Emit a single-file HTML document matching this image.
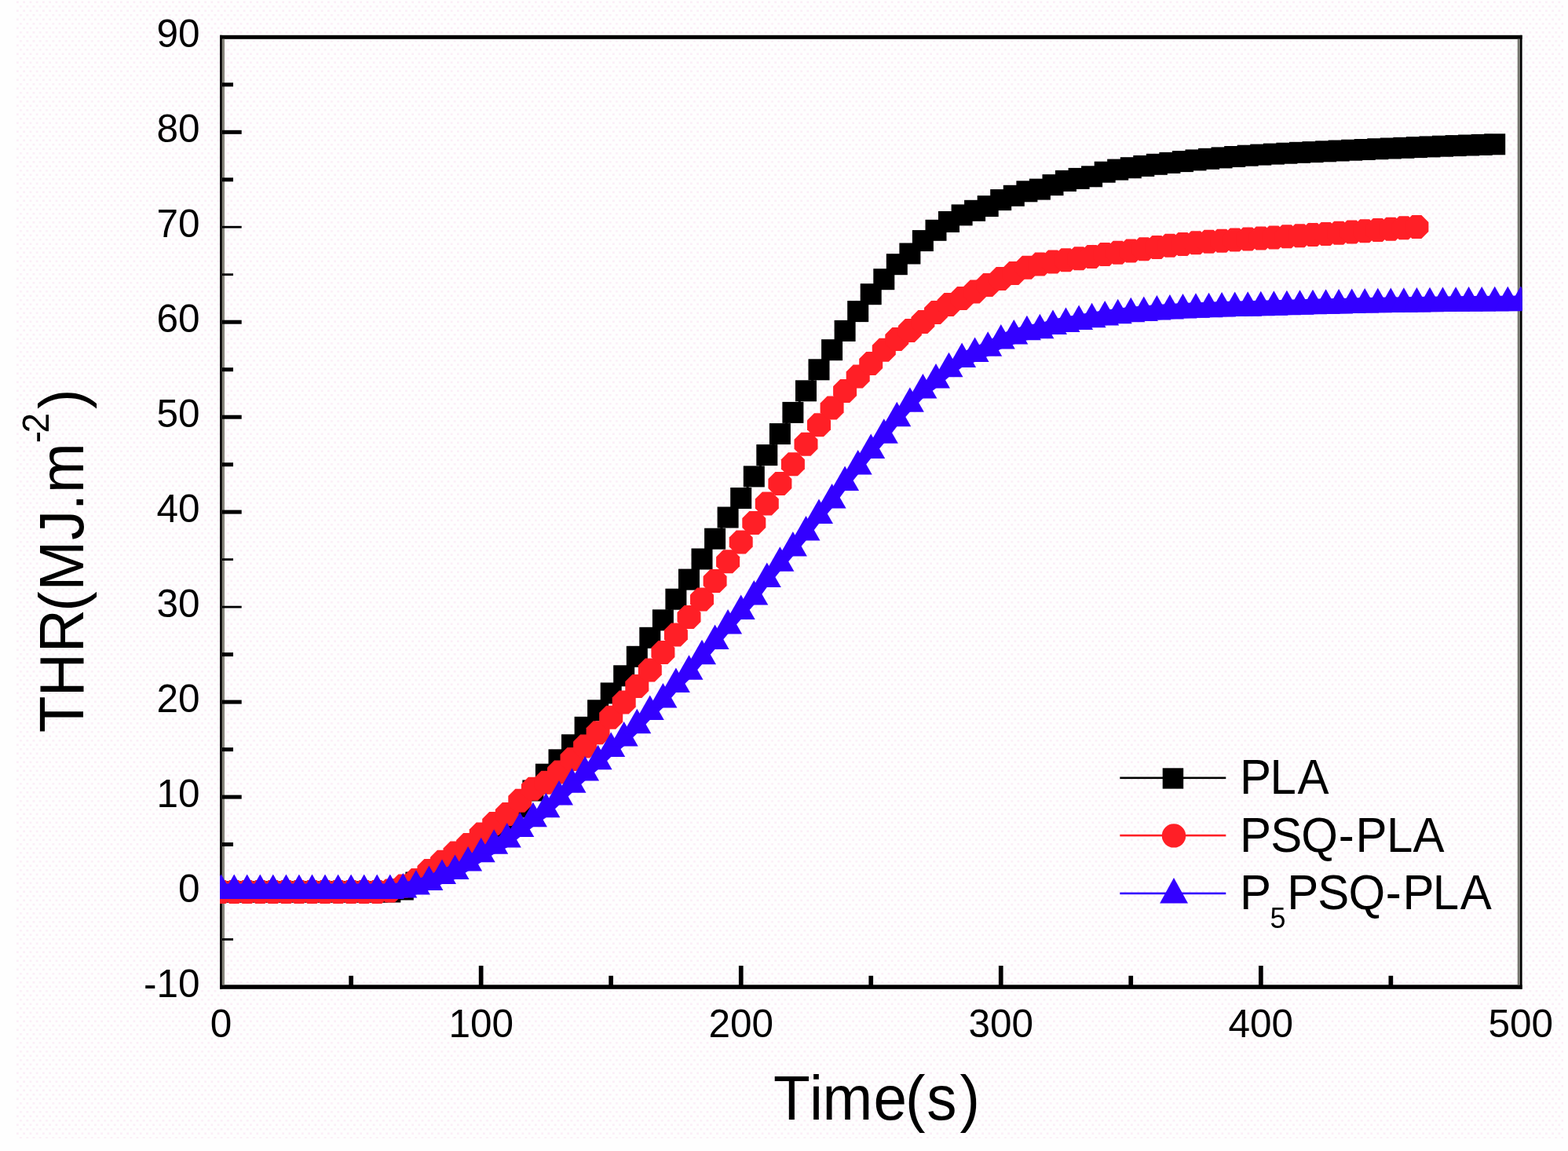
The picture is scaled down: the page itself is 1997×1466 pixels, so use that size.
<!DOCTYPE html>
<html lang="en"><head><meta charset="utf-8"><title>THR vs Time</title>
<style>html,body{margin:0;padding:0;background:#fefefe;}body{width:1997px;height:1466px;overflow:hidden;}svg{display:block;}text{font-family:"Liberation Sans",Arial,Helvetica,sans-serif;fill:#000;}</style></head><body>
<svg width="1997" height="1466" viewBox="0 0 1997 1466">
<defs><clipPath id="plot"><rect x="280" y="45" width="1658.6" height="1215"/></clipPath>
<pattern id="dots" x="21" y="0" width="8.25" height="11" patternUnits="userSpaceOnUse"><rect x="0" y="1.4" width="2.75" height="2.75" fill="#fbeef7"/><rect x="4.1" y="6.9" width="2.75" height="2.75" fill="#fbeef7"/></pattern></defs>
<rect x="0" y="0" width="1997" height="1466" fill="#fefefe"/>
<rect x="21" y="0" width="1970" height="1450" fill="url(#dots)"/>
<g fill="#000">
<rect x="280" y="44.8" width="1658.6" height="5"/>
<rect x="280" y="1254.3" width="1658.6" height="5.5"/>
<rect x="280" y="44.8" width="2.9" height="1215"/>
<rect x="1935.9" y="44.8" width="2.7" height="1215"/>
</g>
<rect x="282.9" y="49.8" width="3.1" height="1204.5" fill="#86857b"/>
<rect x="1932.7" y="49.8" width="3.2" height="1204.5" fill="#76766f"/>
<g fill="#000">
<rect x="283" y="1195.1" width="14.0" height="2.8"/>
<rect x="283" y="1133.5" width="24.7" height="5.0"/>
<rect x="283" y="1073.0" width="14.0" height="5.0"/>
<rect x="283" y="1012.6" width="24.7" height="5.0"/>
<rect x="283" y="952.1" width="14.0" height="5.0"/>
<rect x="283" y="891.6" width="24.7" height="5.0"/>
<rect x="283" y="831.1" width="14.0" height="5.0"/>
<rect x="283" y="771.7" width="24.7" height="2.8"/>
<rect x="283" y="711.2" width="14.0" height="2.8"/>
<rect x="283" y="649.6" width="24.7" height="5.0"/>
<rect x="283" y="589.2" width="14.0" height="5.0"/>
<rect x="283" y="528.7" width="24.7" height="5.0"/>
<rect x="283" y="468.2" width="14.0" height="5.0"/>
<rect x="283" y="407.7" width="24.7" height="5.0"/>
<rect x="283" y="348.3" width="14.0" height="2.8"/>
<rect x="283" y="287.8" width="24.7" height="2.8"/>
<rect x="283" y="226.3" width="14.0" height="5.0"/>
<rect x="283" y="165.8" width="24.7" height="5.0"/>
<rect x="283" y="105.3" width="14.0" height="5.0"/>
<rect x="444.3" y="1242.8" width="5.7" height="12.5"/>
<rect x="609.8" y="1230.0" width="5.7" height="25.3"/>
<rect x="775.3" y="1242.8" width="5.7" height="12.5"/>
<rect x="940.9" y="1230.0" width="5.7" height="25.3"/>
<rect x="1106.4" y="1242.8" width="5.7" height="12.5"/>
<rect x="1271.9" y="1230.0" width="5.7" height="25.3"/>
<rect x="1437.4" y="1242.8" width="5.7" height="12.5"/>
<rect x="1603.0" y="1230.0" width="5.7" height="25.3"/>
<rect x="1768.5" y="1242.8" width="5.7" height="12.5"/>
</g>
<g font-size="49.5px">
<text x="254.5" y="1269.8" text-anchor="end">-10</text>
<text x="254.5" y="1148.8" text-anchor="end">0</text>
<text x="254.5" y="1027.9" text-anchor="end">10</text>
<text x="254.5" y="906.9" text-anchor="end">20</text>
<text x="254.5" y="785.9" text-anchor="end">30</text>
<text x="254.5" y="664.9" text-anchor="end">40</text>
<text x="254.5" y="544.0" text-anchor="end">50</text>
<text x="254.5" y="423.0" text-anchor="end">60</text>
<text x="254.5" y="302.0" text-anchor="end">70</text>
<text x="254.5" y="181.1" text-anchor="end">80</text>
<text x="254.5" y="60.1" text-anchor="end">90</text>
<text x="281.6" y="1320.8" text-anchor="middle">0</text>
<text x="612.7" y="1320.8" text-anchor="middle">100</text>
<text x="943.7" y="1320.8" text-anchor="middle">200</text>
<text x="1274.8" y="1320.8" text-anchor="middle">300</text>
<text x="1605.8" y="1320.8" text-anchor="middle">400</text>
<text x="1936.8" y="1320.8" text-anchor="middle">500</text>
</g>
<g transform="translate(0,1426) scale(1,1.04)"><text y="0" font-size="76.5px" x="984.9 1031.1 1047.6 1112.6 1153.1 1180.2 1222.6">Time(s)</text></g>
<g transform="translate(105.6,933) rotate(-90) scale(1,1.04)"><text y="0" font-size="76.5px" x="-0.3 45.7 101.7 154.2 180.6 245.0 282.7 304.9">THR(MJ.m<tspan font-size="46px" dy="-41.9" x="368.8 381.5">-2</tspan><tspan dy="41.9" x="412.1">)</tspan></text></g>
<g clip-path="url(#plot)">
<polyline fill="none" stroke="#000" stroke-width="2.6" points="281.6,1136.0 298.2,1136.0 314.7,1136.0 331.3,1136.0 347.8,1136.0 364.4,1136.0 380.9,1136.0 397.5,1136.0 414.0,1136.0 430.6,1136.0 447.1,1136.0 463.7,1136.0 480.2,1136.0 496.8,1136.0 513.3,1133.0 529.9,1124.0 546.4,1115.0 563.0,1105.0 579.5,1095.0 596.1,1085.0 612.7,1072.0 629.2,1058.0 645.8,1045.0 662.3,1028.0 678.9,1007.0 695.4,986.2 712.0,967.8 728.5,948.8 745.1,926.3 761.6,904.8 778.2,882.9 794.7,860.8 811.3,836.3 827.8,812.3 844.4,789.8 860.9,763.2 877.5,738.1 894.0,712.0 910.6,686.2 927.1,659.0 943.7,634.5 960.3,606.9 976.8,579.6 993.4,552.6 1009.9,525.4 1026.5,497.8 1043.0,470.8 1059.6,445.7 1076.1,421.4 1092.7,396.6 1109.2,374.7 1125.8,355.7 1142.3,336.7 1158.9,323.0 1175.4,306.6 1192.0,293.3 1208.5,282.5 1225.1,273.9 1241.6,268.3 1258.2,262.6 1274.8,254.6 1291.3,249.3 1307.9,243.8 1324.4,241.1 1341.0,235.6 1357.5,230.4 1374.1,227.4 1390.6,224.8 1407.2,219.2 1423.7,216.1 1440.3,213.7 1456.8,211.4 1473.4,209.3 1489.9,207.4 1506.5,205.6 1523.0,203.9 1539.6,202.3 1556.1,200.9 1572.7,199.5 1589.2,198.2 1605.8,197.1 1622.4,196.1 1638.9,195.2 1655.5,194.3 1672.0,193.6 1688.6,192.8 1705.1,192.0 1721.7,191.2 1738.2,190.5 1754.8,189.7 1771.3,189.0 1787.9,188.3 1804.4,187.6 1821.0,186.9 1837.5,186.2 1854.1,185.6 1870.6,185.0 1887.2,184.4 1903.7,183.8"/>
<g fill="#000">
<rect x="268.1" y="1122.5" width="27" height="27"/>
<rect x="284.7" y="1122.5" width="27" height="27"/>
<rect x="301.2" y="1122.5" width="27" height="27"/>
<rect x="317.8" y="1122.5" width="27" height="27"/>
<rect x="334.3" y="1122.5" width="27" height="27"/>
<rect x="350.9" y="1122.5" width="27" height="27"/>
<rect x="367.4" y="1122.5" width="27" height="27"/>
<rect x="384.0" y="1122.5" width="27" height="27"/>
<rect x="400.5" y="1122.5" width="27" height="27"/>
<rect x="417.1" y="1122.5" width="27" height="27"/>
<rect x="433.6" y="1122.5" width="27" height="27"/>
<rect x="450.2" y="1122.5" width="27" height="27"/>
<rect x="466.7" y="1122.5" width="27" height="27"/>
<rect x="483.3" y="1122.5" width="27" height="27"/>
<rect x="499.8" y="1119.5" width="27" height="27"/>
<rect x="516.4" y="1110.5" width="27" height="27"/>
<rect x="532.9" y="1101.5" width="27" height="27"/>
<rect x="549.5" y="1091.5" width="27" height="27"/>
<rect x="566.0" y="1081.5" width="27" height="27"/>
<rect x="582.6" y="1071.5" width="27" height="27"/>
<rect x="599.2" y="1058.5" width="27" height="27"/>
<rect x="615.7" y="1044.5" width="27" height="27"/>
<rect x="632.3" y="1031.5" width="27" height="27"/>
<rect x="648.8" y="1014.5" width="27" height="27"/>
<rect x="665.4" y="993.5" width="27" height="27"/>
<rect x="681.9" y="972.7" width="27" height="27"/>
<rect x="698.5" y="954.3" width="27" height="27"/>
<rect x="715.0" y="935.3" width="27" height="27"/>
<rect x="731.6" y="912.8" width="27" height="27"/>
<rect x="748.1" y="891.3" width="27" height="27"/>
<rect x="764.7" y="869.4" width="27" height="27"/>
<rect x="781.2" y="847.3" width="27" height="27"/>
<rect x="797.8" y="822.8" width="27" height="27"/>
<rect x="814.3" y="798.8" width="27" height="27"/>
<rect x="830.9" y="776.3" width="27" height="27"/>
<rect x="847.4" y="749.7" width="27" height="27"/>
<rect x="864.0" y="724.6" width="27" height="27"/>
<rect x="880.5" y="698.5" width="27" height="27"/>
<rect x="897.1" y="672.7" width="27" height="27"/>
<rect x="913.6" y="645.5" width="27" height="27"/>
<rect x="930.2" y="621.0" width="27" height="27"/>
<rect x="946.8" y="593.4" width="27" height="27"/>
<rect x="963.3" y="566.1" width="27" height="27"/>
<rect x="979.9" y="539.1" width="27" height="27"/>
<rect x="996.4" y="511.9" width="27" height="27"/>
<rect x="1013.0" y="484.3" width="27" height="27"/>
<rect x="1029.5" y="457.3" width="27" height="27"/>
<rect x="1046.1" y="432.2" width="27" height="27"/>
<rect x="1062.6" y="407.9" width="27" height="27"/>
<rect x="1079.2" y="383.1" width="27" height="27"/>
<rect x="1095.7" y="361.2" width="27" height="27"/>
<rect x="1112.3" y="342.2" width="27" height="27"/>
<rect x="1128.8" y="323.2" width="27" height="27"/>
<rect x="1145.4" y="309.5" width="27" height="27"/>
<rect x="1161.9" y="293.1" width="27" height="27"/>
<rect x="1178.5" y="279.8" width="27" height="27"/>
<rect x="1195.0" y="269.0" width="27" height="27"/>
<rect x="1211.6" y="260.4" width="27" height="27"/>
<rect x="1228.1" y="254.8" width="27" height="27"/>
<rect x="1244.7" y="249.1" width="27" height="27"/>
<rect x="1261.2" y="241.1" width="27" height="27"/>
<rect x="1277.8" y="235.8" width="27" height="27"/>
<rect x="1294.4" y="230.3" width="27" height="27"/>
<rect x="1310.9" y="227.6" width="27" height="27"/>
<rect x="1327.5" y="222.1" width="27" height="27"/>
<rect x="1344.0" y="216.9" width="27" height="27"/>
<rect x="1360.6" y="213.9" width="27" height="27"/>
<rect x="1377.1" y="211.3" width="27" height="27"/>
<rect x="1393.7" y="205.7" width="27" height="27"/>
<rect x="1410.2" y="202.6" width="27" height="27"/>
<rect x="1426.8" y="200.2" width="27" height="27"/>
<rect x="1443.3" y="197.9" width="27" height="27"/>
<rect x="1459.9" y="195.8" width="27" height="27"/>
<rect x="1476.4" y="193.9" width="27" height="27"/>
<rect x="1493.0" y="192.1" width="27" height="27"/>
<rect x="1509.5" y="190.4" width="27" height="27"/>
<rect x="1526.1" y="188.8" width="27" height="27"/>
<rect x="1542.6" y="187.4" width="27" height="27"/>
<rect x="1559.2" y="186.0" width="27" height="27"/>
<rect x="1575.7" y="184.7" width="27" height="27"/>
<rect x="1592.3" y="183.6" width="27" height="27"/>
<rect x="1608.9" y="182.6" width="27" height="27"/>
<rect x="1625.4" y="181.7" width="27" height="27"/>
<rect x="1642.0" y="180.8" width="27" height="27"/>
<rect x="1658.5" y="180.1" width="27" height="27"/>
<rect x="1675.1" y="179.3" width="27" height="27"/>
<rect x="1691.6" y="178.5" width="27" height="27"/>
<rect x="1708.2" y="177.7" width="27" height="27"/>
<rect x="1724.7" y="177.0" width="27" height="27"/>
<rect x="1741.3" y="176.2" width="27" height="27"/>
<rect x="1757.8" y="175.5" width="27" height="27"/>
<rect x="1774.4" y="174.8" width="27" height="27"/>
<rect x="1790.9" y="174.1" width="27" height="27"/>
<rect x="1807.5" y="173.4" width="27" height="27"/>
<rect x="1824.0" y="172.7" width="27" height="27"/>
<rect x="1840.6" y="172.1" width="27" height="27"/>
<rect x="1857.1" y="171.5" width="27" height="27"/>
<rect x="1873.7" y="170.9" width="27" height="27"/>
<rect x="1890.2" y="170.3" width="27" height="27"/>
</g>
<polyline fill="none" stroke="#ff1f26" stroke-width="2.6" points="281.6,1136.0 298.2,1136.0 314.7,1136.0 331.3,1136.0 347.8,1136.0 364.4,1136.0 380.9,1136.0 397.5,1136.0 414.0,1136.0 430.6,1136.0 447.1,1136.0 463.7,1136.0 480.2,1136.0 496.8,1134.6 513.3,1128.6 529.9,1121.1 546.4,1109.1 563.0,1097.8 579.5,1086.6 596.1,1076.1 612.7,1062.6 629.2,1049.0 645.8,1037.0 662.3,1019.8 678.9,1004.8 695.4,996.7 712.0,983.4 728.5,967.0 745.1,950.6 761.6,933.2 778.2,913.8 794.7,894.4 811.3,873.9 827.8,853.5 844.4,830.9 860.9,808.4 877.5,785.9 894.0,763.4 910.6,739.9 927.1,715.3 943.7,690.5 960.3,666.0 976.8,641.4 993.4,615.9 1009.9,591.3 1026.5,565.7 1043.0,541.2 1059.6,519.5 1076.1,498.0 1092.7,479.5 1109.2,463.0 1125.8,445.7 1142.3,432.0 1158.9,421.0 1175.4,410.0 1192.0,398.0 1208.5,388.0 1225.1,380.0 1241.6,371.5 1258.2,363.0 1274.8,355.0 1291.3,348.0 1307.9,340.7 1324.4,336.5 1341.0,333.5 1357.5,331.3 1374.1,329.2 1390.6,327.0 1407.2,324.0 1423.7,321.8 1440.3,319.5 1456.8,317.3 1473.4,315.0 1489.9,312.8 1506.5,310.9 1523.0,309.2 1539.6,307.8 1556.1,306.7 1572.7,305.6 1589.2,304.6 1605.8,303.5 1622.4,302.4 1638.9,301.3 1655.5,300.2 1672.0,299.1 1688.6,298.0 1705.1,296.8 1721.7,295.6 1738.2,294.3 1754.8,293.0 1771.3,291.7 1787.9,290.3 1804.4,288.9"/>
<g fill="#ff1f26">
<path d="M275.6 1121.0L287.6 1121.0L296.6 1130.0L296.6 1142.0L287.6 1151.0L275.6 1151.0L266.6 1142.0L266.6 1130.0Z"/>
<path d="M292.2 1121.0L304.2 1121.0L313.2 1130.0L313.2 1142.0L304.2 1151.0L292.2 1151.0L283.2 1142.0L283.2 1130.0Z"/>
<path d="M308.7 1121.0L320.7 1121.0L329.7 1130.0L329.7 1142.0L320.7 1151.0L308.7 1151.0L299.7 1142.0L299.7 1130.0Z"/>
<path d="M325.3 1121.0L337.3 1121.0L346.3 1130.0L346.3 1142.0L337.3 1151.0L325.3 1151.0L316.3 1142.0L316.3 1130.0Z"/>
<path d="M341.8 1121.0L353.8 1121.0L362.8 1130.0L362.8 1142.0L353.8 1151.0L341.8 1151.0L332.8 1142.0L332.8 1130.0Z"/>
<path d="M358.4 1121.0L370.4 1121.0L379.4 1130.0L379.4 1142.0L370.4 1151.0L358.4 1151.0L349.4 1142.0L349.4 1130.0Z"/>
<path d="M374.9 1121.0L386.9 1121.0L395.9 1130.0L395.9 1142.0L386.9 1151.0L374.9 1151.0L365.9 1142.0L365.9 1130.0Z"/>
<path d="M391.5 1121.0L403.5 1121.0L412.5 1130.0L412.5 1142.0L403.5 1151.0L391.5 1151.0L382.5 1142.0L382.5 1130.0Z"/>
<path d="M408.0 1121.0L420.0 1121.0L429.0 1130.0L429.0 1142.0L420.0 1151.0L408.0 1151.0L399.0 1142.0L399.0 1130.0Z"/>
<path d="M424.6 1121.0L436.6 1121.0L445.6 1130.0L445.6 1142.0L436.6 1151.0L424.6 1151.0L415.6 1142.0L415.6 1130.0Z"/>
<path d="M441.1 1121.0L453.1 1121.0L462.1 1130.0L462.1 1142.0L453.1 1151.0L441.1 1151.0L432.1 1142.0L432.1 1130.0Z"/>
<path d="M457.7 1121.0L469.7 1121.0L478.7 1130.0L478.7 1142.0L469.7 1151.0L457.7 1151.0L448.7 1142.0L448.7 1130.0Z"/>
<path d="M474.2 1121.0L486.2 1121.0L495.2 1130.0L495.2 1142.0L486.2 1151.0L474.2 1151.0L465.2 1142.0L465.2 1130.0Z"/>
<path d="M490.8 1119.6L502.8 1119.6L511.8 1128.6L511.8 1140.6L502.8 1149.6L490.8 1149.6L481.8 1140.6L481.8 1128.6Z"/>
<path d="M507.3 1113.6L519.3 1113.6L528.3 1122.6L528.3 1134.6L519.3 1143.6L507.3 1143.6L498.3 1134.6L498.3 1122.6Z"/>
<path d="M523.9 1106.1L535.9 1106.1L544.9 1115.1L544.9 1127.1L535.9 1136.1L523.9 1136.1L514.9 1127.1L514.9 1115.1Z"/>
<path d="M540.4 1094.1L552.4 1094.1L561.4 1103.1L561.4 1115.1L552.4 1124.1L540.4 1124.1L531.4 1115.1L531.4 1103.1Z"/>
<path d="M557.0 1082.8L569.0 1082.8L578.0 1091.8L578.0 1103.8L569.0 1112.8L557.0 1112.8L548.0 1103.8L548.0 1091.8Z"/>
<path d="M573.5 1071.6L585.5 1071.6L594.5 1080.6L594.5 1092.6L585.5 1101.6L573.5 1101.6L564.5 1092.6L564.5 1080.6Z"/>
<path d="M590.1 1061.1L602.1 1061.1L611.1 1070.1L611.1 1082.1L602.1 1091.1L590.1 1091.1L581.1 1082.1L581.1 1070.1Z"/>
<path d="M606.7 1047.6L618.7 1047.6L627.7 1056.6L627.7 1068.6L618.7 1077.6L606.7 1077.6L597.7 1068.6L597.7 1056.6Z"/>
<path d="M623.2 1034.0L635.2 1034.0L644.2 1043.0L644.2 1055.0L635.2 1064.0L623.2 1064.0L614.2 1055.0L614.2 1043.0Z"/>
<path d="M639.8 1022.0L651.8 1022.0L660.8 1031.0L660.8 1043.0L651.8 1052.0L639.8 1052.0L630.8 1043.0L630.8 1031.0Z"/>
<path d="M656.3 1004.8L668.3 1004.8L677.3 1013.8L677.3 1025.8L668.3 1034.8L656.3 1034.8L647.3 1025.8L647.3 1013.8Z"/>
<path d="M672.9 989.8L684.9 989.8L693.9 998.8L693.9 1010.8L684.9 1019.8L672.9 1019.8L663.9 1010.8L663.9 998.8Z"/>
<path d="M689.4 981.7L701.4 981.7L710.4 990.7L710.4 1002.7L701.4 1011.7L689.4 1011.7L680.4 1002.7L680.4 990.7Z"/>
<path d="M706.0 968.4L718.0 968.4L727.0 977.4L727.0 989.4L718.0 998.4L706.0 998.4L697.0 989.4L697.0 977.4Z"/>
<path d="M722.5 952.0L734.5 952.0L743.5 961.0L743.5 973.0L734.5 982.0L722.5 982.0L713.5 973.0L713.5 961.0Z"/>
<path d="M739.1 935.6L751.1 935.6L760.1 944.6L760.1 956.6L751.1 965.6L739.1 965.6L730.1 956.6L730.1 944.6Z"/>
<path d="M755.6 918.2L767.6 918.2L776.6 927.2L776.6 939.2L767.6 948.2L755.6 948.2L746.6 939.2L746.6 927.2Z"/>
<path d="M772.2 898.8L784.2 898.8L793.2 907.8L793.2 919.8L784.2 928.8L772.2 928.8L763.2 919.8L763.2 907.8Z"/>
<path d="M788.7 879.4L800.7 879.4L809.7 888.4L809.7 900.4L800.7 909.4L788.7 909.4L779.7 900.4L779.7 888.4Z"/>
<path d="M805.3 858.9L817.3 858.9L826.3 867.9L826.3 879.9L817.3 888.9L805.3 888.9L796.3 879.9L796.3 867.9Z"/>
<path d="M821.8 838.5L833.8 838.5L842.8 847.5L842.8 859.5L833.8 868.5L821.8 868.5L812.8 859.5L812.8 847.5Z"/>
<path d="M838.4 815.9L850.4 815.9L859.4 824.9L859.4 836.9L850.4 845.9L838.4 845.9L829.4 836.9L829.4 824.9Z"/>
<path d="M854.9 793.4L866.9 793.4L875.9 802.4L875.9 814.4L866.9 823.4L854.9 823.4L845.9 814.4L845.9 802.4Z"/>
<path d="M871.5 770.9L883.5 770.9L892.5 779.9L892.5 791.9L883.5 800.9L871.5 800.9L862.5 791.9L862.5 779.9Z"/>
<path d="M888.0 748.4L900.0 748.4L909.0 757.4L909.0 769.4L900.0 778.4L888.0 778.4L879.0 769.4L879.0 757.4Z"/>
<path d="M904.6 724.9L916.6 724.9L925.6 733.9L925.6 745.9L916.6 754.9L904.6 754.9L895.6 745.9L895.6 733.9Z"/>
<path d="M921.1 700.3L933.1 700.3L942.1 709.3L942.1 721.3L933.1 730.3L921.1 730.3L912.1 721.3L912.1 709.3Z"/>
<path d="M937.7 675.5L949.7 675.5L958.7 684.5L958.7 696.5L949.7 705.5L937.7 705.5L928.7 696.5L928.7 684.5Z"/>
<path d="M954.3 651.0L966.3 651.0L975.3 660.0L975.3 672.0L966.3 681.0L954.3 681.0L945.3 672.0L945.3 660.0Z"/>
<path d="M970.8 626.4L982.8 626.4L991.8 635.4L991.8 647.4L982.8 656.4L970.8 656.4L961.8 647.4L961.8 635.4Z"/>
<path d="M987.4 600.9L999.4 600.9L1008.4 609.9L1008.4 621.9L999.4 630.9L987.4 630.9L978.4 621.9L978.4 609.9Z"/>
<path d="M1003.9 576.3L1015.9 576.3L1024.9 585.3L1024.9 597.3L1015.9 606.3L1003.9 606.3L994.9 597.3L994.9 585.3Z"/>
<path d="M1020.5 550.7L1032.5 550.7L1041.5 559.7L1041.5 571.7L1032.5 580.7L1020.5 580.7L1011.5 571.7L1011.5 559.7Z"/>
<path d="M1037.0 526.2L1049.0 526.2L1058.0 535.2L1058.0 547.2L1049.0 556.2L1037.0 556.2L1028.0 547.2L1028.0 535.2Z"/>
<path d="M1053.6 504.5L1065.6 504.5L1074.6 513.5L1074.6 525.5L1065.6 534.5L1053.6 534.5L1044.6 525.5L1044.6 513.5Z"/>
<path d="M1070.1 483.0L1082.1 483.0L1091.1 492.0L1091.1 504.0L1082.1 513.0L1070.1 513.0L1061.1 504.0L1061.1 492.0Z"/>
<path d="M1086.7 464.5L1098.7 464.5L1107.7 473.5L1107.7 485.5L1098.7 494.5L1086.7 494.5L1077.7 485.5L1077.7 473.5Z"/>
<path d="M1103.2 448.0L1115.2 448.0L1124.2 457.0L1124.2 469.0L1115.2 478.0L1103.2 478.0L1094.2 469.0L1094.2 457.0Z"/>
<path d="M1119.8 430.7L1131.8 430.7L1140.8 439.7L1140.8 451.7L1131.8 460.7L1119.8 460.7L1110.8 451.7L1110.8 439.7Z"/>
<path d="M1136.3 417.0L1148.3 417.0L1157.3 426.0L1157.3 438.0L1148.3 447.0L1136.3 447.0L1127.3 438.0L1127.3 426.0Z"/>
<path d="M1152.9 406.0L1164.9 406.0L1173.9 415.0L1173.9 427.0L1164.9 436.0L1152.9 436.0L1143.9 427.0L1143.9 415.0Z"/>
<path d="M1169.4 395.0L1181.4 395.0L1190.4 404.0L1190.4 416.0L1181.4 425.0L1169.4 425.0L1160.4 416.0L1160.4 404.0Z"/>
<path d="M1186.0 383.0L1198.0 383.0L1207.0 392.0L1207.0 404.0L1198.0 413.0L1186.0 413.0L1177.0 404.0L1177.0 392.0Z"/>
<path d="M1202.5 373.0L1214.5 373.0L1223.5 382.0L1223.5 394.0L1214.5 403.0L1202.5 403.0L1193.5 394.0L1193.5 382.0Z"/>
<path d="M1219.1 365.0L1231.1 365.0L1240.1 374.0L1240.1 386.0L1231.1 395.0L1219.1 395.0L1210.1 386.0L1210.1 374.0Z"/>
<path d="M1235.6 356.5L1247.6 356.5L1256.6 365.5L1256.6 377.5L1247.6 386.5L1235.6 386.5L1226.6 377.5L1226.6 365.5Z"/>
<path d="M1252.2 348.0L1264.2 348.0L1273.2 357.0L1273.2 369.0L1264.2 378.0L1252.2 378.0L1243.2 369.0L1243.2 357.0Z"/>
<path d="M1268.8 340.0L1280.8 340.0L1289.8 349.0L1289.8 361.0L1280.8 370.0L1268.8 370.0L1259.8 361.0L1259.8 349.0Z"/>
<path d="M1285.3 333.0L1297.3 333.0L1306.3 342.0L1306.3 354.0L1297.3 363.0L1285.3 363.0L1276.3 354.0L1276.3 342.0Z"/>
<path d="M1301.9 325.7L1313.9 325.7L1322.9 334.7L1322.9 346.7L1313.9 355.7L1301.9 355.7L1292.9 346.7L1292.9 334.7Z"/>
<path d="M1318.4 321.5L1330.4 321.5L1339.4 330.5L1339.4 342.5L1330.4 351.5L1318.4 351.5L1309.4 342.5L1309.4 330.5Z"/>
<path d="M1335.0 318.5L1347.0 318.5L1356.0 327.5L1356.0 339.5L1347.0 348.5L1335.0 348.5L1326.0 339.5L1326.0 327.5Z"/>
<path d="M1351.5 316.3L1363.5 316.3L1372.5 325.3L1372.5 337.3L1363.5 346.3L1351.5 346.3L1342.5 337.3L1342.5 325.3Z"/>
<path d="M1368.1 314.2L1380.1 314.2L1389.1 323.2L1389.1 335.2L1380.1 344.2L1368.1 344.2L1359.1 335.2L1359.1 323.2Z"/>
<path d="M1384.6 312.0L1396.6 312.0L1405.6 321.0L1405.6 333.0L1396.6 342.0L1384.6 342.0L1375.6 333.0L1375.6 321.0Z"/>
<path d="M1401.2 309.0L1413.2 309.0L1422.2 318.0L1422.2 330.0L1413.2 339.0L1401.2 339.0L1392.2 330.0L1392.2 318.0Z"/>
<path d="M1417.7 306.8L1429.7 306.8L1438.7 315.8L1438.7 327.8L1429.7 336.8L1417.7 336.8L1408.7 327.8L1408.7 315.8Z"/>
<path d="M1434.3 304.5L1446.3 304.5L1455.3 313.5L1455.3 325.5L1446.3 334.5L1434.3 334.5L1425.3 325.5L1425.3 313.5Z"/>
<path d="M1450.8 302.3L1462.8 302.3L1471.8 311.3L1471.8 323.3L1462.8 332.3L1450.8 332.3L1441.8 323.3L1441.8 311.3Z"/>
<path d="M1467.4 300.0L1479.4 300.0L1488.4 309.0L1488.4 321.0L1479.4 330.0L1467.4 330.0L1458.4 321.0L1458.4 309.0Z"/>
<path d="M1483.9 297.8L1495.9 297.8L1504.9 306.8L1504.9 318.8L1495.9 327.8L1483.9 327.8L1474.9 318.8L1474.9 306.8Z"/>
<path d="M1500.5 295.9L1512.5 295.9L1521.5 304.9L1521.5 316.9L1512.5 325.9L1500.5 325.9L1491.5 316.9L1491.5 304.9Z"/>
<path d="M1517.0 294.2L1529.0 294.2L1538.0 303.2L1538.0 315.2L1529.0 324.2L1517.0 324.2L1508.0 315.2L1508.0 303.2Z"/>
<path d="M1533.6 292.8L1545.6 292.8L1554.6 301.8L1554.6 313.8L1545.6 322.8L1533.6 322.8L1524.6 313.8L1524.6 301.8Z"/>
<path d="M1550.1 291.7L1562.1 291.7L1571.1 300.7L1571.1 312.7L1562.1 321.7L1550.1 321.7L1541.1 312.7L1541.1 300.7Z"/>
<path d="M1566.7 290.6L1578.7 290.6L1587.7 299.6L1587.7 311.6L1578.7 320.6L1566.7 320.6L1557.7 311.6L1557.7 299.6Z"/>
<path d="M1583.2 289.6L1595.2 289.6L1604.2 298.6L1604.2 310.6L1595.2 319.6L1583.2 319.6L1574.2 310.6L1574.2 298.6Z"/>
<path d="M1599.8 288.5L1611.8 288.5L1620.8 297.5L1620.8 309.5L1611.8 318.5L1599.8 318.5L1590.8 309.5L1590.8 297.5Z"/>
<path d="M1616.4 287.4L1628.4 287.4L1637.4 296.4L1637.4 308.4L1628.4 317.4L1616.4 317.4L1607.4 308.4L1607.4 296.4Z"/>
<path d="M1632.9 286.3L1644.9 286.3L1653.9 295.3L1653.9 307.3L1644.9 316.3L1632.9 316.3L1623.9 307.3L1623.9 295.3Z"/>
<path d="M1649.5 285.2L1661.5 285.2L1670.5 294.2L1670.5 306.2L1661.5 315.2L1649.5 315.2L1640.5 306.2L1640.5 294.2Z"/>
<path d="M1666.0 284.1L1678.0 284.1L1687.0 293.1L1687.0 305.1L1678.0 314.1L1666.0 314.1L1657.0 305.1L1657.0 293.1Z"/>
<path d="M1682.6 283.0L1694.6 283.0L1703.6 292.0L1703.6 304.0L1694.6 313.0L1682.6 313.0L1673.6 304.0L1673.6 292.0Z"/>
<path d="M1699.1 281.8L1711.1 281.8L1720.1 290.8L1720.1 302.8L1711.1 311.8L1699.1 311.8L1690.1 302.8L1690.1 290.8Z"/>
<path d="M1715.7 280.6L1727.7 280.6L1736.7 289.6L1736.7 301.6L1727.7 310.6L1715.7 310.6L1706.7 301.6L1706.7 289.6Z"/>
<path d="M1732.2 279.3L1744.2 279.3L1753.2 288.3L1753.2 300.3L1744.2 309.3L1732.2 309.3L1723.2 300.3L1723.2 288.3Z"/>
<path d="M1748.8 278.0L1760.8 278.0L1769.8 287.0L1769.8 299.0L1760.8 308.0L1748.8 308.0L1739.8 299.0L1739.8 287.0Z"/>
<path d="M1765.3 276.7L1777.3 276.7L1786.3 285.7L1786.3 297.7L1777.3 306.7L1765.3 306.7L1756.3 297.7L1756.3 285.7Z"/>
<path d="M1781.9 275.3L1793.9 275.3L1802.9 284.3L1802.9 296.3L1793.9 305.3L1781.9 305.3L1772.9 296.3L1772.9 284.3Z"/>
<path d="M1798.4 273.9L1810.4 273.9L1819.4 282.9L1819.4 294.9L1810.4 303.9L1798.4 303.9L1789.4 294.9L1789.4 282.9Z"/>
</g>
<g fill="#3300ff">
<path d="M281.6 1145.0L298.2 1145.0L314.7 1145.0L331.3 1145.0L347.8 1145.0L364.4 1145.0L380.9 1145.0L397.5 1145.0L414.0 1145.0L430.6 1145.0L447.1 1145.0L463.7 1144.9L480.2 1144.9L496.8 1144.9L513.3 1143.4L529.9 1139.6L546.4 1133.9L563.0 1126.1L579.5 1120.1L596.1 1109.6L612.7 1098.3L629.2 1087.8L645.8 1079.6L662.3 1066.0L678.9 1053.3L695.4 1041.3L712.0 1025.5L728.5 1009.8L745.1 994.6L761.6 980.3L778.2 963.9L794.7 950.6L811.3 934.3L827.8 916.9L844.4 901.5L860.9 882.1L877.5 865.7L894.0 846.3L910.6 826.9L927.1 807.4L943.7 789.0L960.3 770.6L976.8 748.1L993.4 727.8L1009.9 708.5L1026.5 688.5L1043.0 667.0L1059.6 647.6L1076.1 625.1L1092.7 604.6L1109.2 584.1L1125.8 564.7L1142.3 543.2L1158.9 524.8L1175.4 507.4L1192.0 494.6L1208.5 480.3L1225.1 468.0L1241.6 460.9L1258.2 453.7L1274.8 444.5L1291.3 438.4L1307.9 433.2L1324.4 431.2L1341.0 426.1L1357.5 423.0L1374.1 420.0L1390.6 417.2L1407.2 414.5L1423.7 412.2L1440.3 410.3L1456.8 408.9L1473.4 407.6L1489.9 406.5L1506.5 405.6L1523.0 404.8L1539.6 404.2L1556.1 403.6L1572.7 403.1L1589.2 402.7L1605.8 402.2L1622.4 401.7L1638.9 401.2L1655.5 400.8L1672.0 400.3L1688.6 399.8L1705.1 399.4L1721.7 399.0L1738.2 398.6L1754.8 398.3L1771.3 398.0L1787.9 397.7L1804.4 397.5L1821.0 397.3L1837.5 397.0L1854.1 396.8L1870.6 396.6L1887.2 396.5L1903.7 396.3L1920.3 396.2L1936.8 396.1L1953.4 396.0L1953.4 376.5L1936.8 376.6L1920.3 376.7L1903.7 376.8L1887.2 377.0L1870.6 377.1L1854.1 377.3L1837.5 377.5L1821.0 377.8L1804.4 378.0L1787.9 378.2L1771.3 378.5L1754.8 378.8L1738.2 379.1L1721.7 379.5L1705.1 379.9L1688.6 380.3L1672.0 380.8L1655.5 381.3L1638.9 381.7L1622.4 382.2L1605.8 382.7L1589.2 383.2L1572.7 383.6L1556.1 384.1L1539.6 384.7L1523.0 385.3L1506.5 386.1L1489.9 387.0L1473.4 388.1L1456.8 389.4L1440.3 390.8L1423.7 392.7L1407.2 395.0L1390.6 397.7L1374.1 400.5L1357.5 403.5L1341.0 406.6L1324.4 411.7L1307.9 413.7L1291.3 418.9L1274.8 425.0L1258.2 434.2L1241.6 441.4L1225.1 448.5L1208.5 460.8L1192.0 475.1L1175.4 487.9L1158.9 505.3L1142.3 523.7L1125.8 545.2L1109.2 564.6L1092.7 585.1L1076.1 605.6L1059.6 628.1L1043.0 647.5L1026.5 669.0L1009.9 689.0L993.4 708.3L976.8 728.6L960.3 751.1L943.7 769.5L927.1 787.9L910.6 807.4L894.0 826.8L877.5 846.2L860.9 862.6L844.4 882.0L827.8 897.4L811.3 914.8L794.7 931.1L778.2 944.4L761.6 960.8L745.1 975.1L728.5 990.3L712.0 1006.0L695.4 1021.8L678.9 1033.8L662.3 1046.5L645.8 1060.1L629.2 1068.3L612.7 1078.8L596.1 1090.1L579.5 1100.6L563.0 1106.6L546.4 1114.4L529.9 1120.1L513.3 1123.9L496.8 1125.4L480.2 1125.4L463.7 1125.4L447.1 1125.5L430.6 1125.5L414.0 1125.5L397.5 1125.5L380.9 1125.5L364.4 1125.5L347.8 1125.5L331.3 1125.5L314.7 1125.5L298.2 1125.5L281.6 1125.5Z"/>
<path d="M281.6 1113.5L299.6 1145.0L263.6 1145.0Z"/>
<path d="M298.2 1113.5L316.2 1145.0L280.2 1145.0Z"/>
<path d="M314.7 1113.5L332.7 1145.0L296.7 1145.0Z"/>
<path d="M331.3 1113.5L349.3 1145.0L313.3 1145.0Z"/>
<path d="M347.8 1113.5L365.8 1145.0L329.8 1145.0Z"/>
<path d="M364.4 1113.5L382.4 1145.0L346.4 1145.0Z"/>
<path d="M380.9 1113.5L398.9 1145.0L362.9 1145.0Z"/>
<path d="M397.5 1113.5L415.5 1145.0L379.5 1145.0Z"/>
<path d="M414.0 1113.5L432.0 1145.0L396.0 1145.0Z"/>
<path d="M430.6 1113.5L448.6 1145.0L412.6 1145.0Z"/>
<path d="M447.1 1113.5L465.1 1145.0L429.1 1145.0Z"/>
<path d="M463.7 1113.4L481.7 1144.9L445.7 1144.9Z"/>
<path d="M480.2 1113.4L498.2 1144.9L462.2 1144.9Z"/>
<path d="M496.8 1113.4L514.8 1144.9L478.8 1144.9Z"/>
<path d="M513.3 1111.9L531.3 1143.4L495.3 1143.4Z"/>
<path d="M529.9 1108.1L547.9 1139.6L511.9 1139.6Z"/>
<path d="M546.4 1102.4L564.4 1133.9L528.4 1133.9Z"/>
<path d="M563.0 1094.6L581.0 1126.1L545.0 1126.1Z"/>
<path d="M579.5 1088.6L597.5 1120.1L561.5 1120.1Z"/>
<path d="M596.1 1078.1L614.1 1109.6L578.1 1109.6Z"/>
<path d="M612.7 1066.8L630.7 1098.3L594.7 1098.3Z"/>
<path d="M629.2 1056.3L647.2 1087.8L611.2 1087.8Z"/>
<path d="M645.8 1048.1L663.8 1079.6L627.8 1079.6Z"/>
<path d="M662.3 1034.5L680.3 1066.0L644.3 1066.0Z"/>
<path d="M678.9 1021.8L696.9 1053.3L660.9 1053.3Z"/>
<path d="M695.4 1009.8L713.4 1041.3L677.4 1041.3Z"/>
<path d="M712.0 994.0L730.0 1025.5L694.0 1025.5Z"/>
<path d="M728.5 978.3L746.5 1009.8L710.5 1009.8Z"/>
<path d="M745.1 963.1L763.1 994.6L727.1 994.6Z"/>
<path d="M761.6 948.8L779.6 980.3L743.6 980.3Z"/>
<path d="M778.2 932.4L796.2 963.9L760.2 963.9Z"/>
<path d="M794.7 919.1L812.7 950.6L776.7 950.6Z"/>
<path d="M811.3 902.8L829.3 934.3L793.3 934.3Z"/>
<path d="M827.8 885.4L845.8 916.9L809.8 916.9Z"/>
<path d="M844.4 870.0L862.4 901.5L826.4 901.5Z"/>
<path d="M860.9 850.6L878.9 882.1L842.9 882.1Z"/>
<path d="M877.5 834.2L895.5 865.7L859.5 865.7Z"/>
<path d="M894.0 814.8L912.0 846.3L876.0 846.3Z"/>
<path d="M910.6 795.4L928.6 826.9L892.6 826.9Z"/>
<path d="M927.1 775.9L945.1 807.4L909.1 807.4Z"/>
<path d="M943.7 757.5L961.7 789.0L925.7 789.0Z"/>
<path d="M960.3 739.1L978.3 770.6L942.3 770.6Z"/>
<path d="M976.8 716.6L994.8 748.1L958.8 748.1Z"/>
<path d="M993.4 696.3L1011.4 727.8L975.4 727.8Z"/>
<path d="M1009.9 677.0L1027.9 708.5L991.9 708.5Z"/>
<path d="M1026.5 657.0L1044.5 688.5L1008.5 688.5Z"/>
<path d="M1043.0 635.5L1061.0 667.0L1025.0 667.0Z"/>
<path d="M1059.6 616.1L1077.6 647.6L1041.6 647.6Z"/>
<path d="M1076.1 593.6L1094.1 625.1L1058.1 625.1Z"/>
<path d="M1092.7 573.1L1110.7 604.6L1074.7 604.6Z"/>
<path d="M1109.2 552.6L1127.2 584.1L1091.2 584.1Z"/>
<path d="M1125.8 533.2L1143.8 564.7L1107.8 564.7Z"/>
<path d="M1142.3 511.7L1160.3 543.2L1124.3 543.2Z"/>
<path d="M1158.9 493.3L1176.9 524.8L1140.9 524.8Z"/>
<path d="M1175.4 475.9L1193.4 507.4L1157.4 507.4Z"/>
<path d="M1192.0 463.1L1210.0 494.6L1174.0 494.6Z"/>
<path d="M1208.5 448.8L1226.5 480.3L1190.5 480.3Z"/>
<path d="M1225.1 436.5L1243.1 468.0L1207.1 468.0Z"/>
<path d="M1241.6 429.4L1259.6 460.9L1223.6 460.9Z"/>
<path d="M1258.2 422.2L1276.2 453.7L1240.2 453.7Z"/>
<path d="M1274.8 413.0L1292.8 444.5L1256.8 444.5Z"/>
<path d="M1291.3 406.9L1309.3 438.4L1273.3 438.4Z"/>
<path d="M1307.9 401.7L1325.9 433.2L1289.9 433.2Z"/>
<path d="M1324.4 399.7L1342.4 431.2L1306.4 431.2Z"/>
<path d="M1341.0 394.6L1359.0 426.1L1323.0 426.1Z"/>
<path d="M1357.5 391.5L1375.5 423.0L1339.5 423.0Z"/>
<path d="M1374.1 388.5L1392.1 420.0L1356.1 420.0Z"/>
<path d="M1390.6 385.7L1408.6 417.2L1372.6 417.2Z"/>
<path d="M1407.2 383.0L1425.2 414.5L1389.2 414.5Z"/>
<path d="M1423.7 380.7L1441.7 412.2L1405.7 412.2Z"/>
<path d="M1440.3 378.8L1458.3 410.3L1422.3 410.3Z"/>
<path d="M1456.8 377.4L1474.8 408.9L1438.8 408.9Z"/>
<path d="M1473.4 376.1L1491.4 407.6L1455.4 407.6Z"/>
<path d="M1489.9 375.0L1507.9 406.5L1471.9 406.5Z"/>
<path d="M1506.5 374.1L1524.5 405.6L1488.5 405.6Z"/>
<path d="M1523.0 373.3L1541.0 404.8L1505.0 404.8Z"/>
<path d="M1539.6 372.7L1557.6 404.2L1521.6 404.2Z"/>
<path d="M1556.1 372.1L1574.1 403.6L1538.1 403.6Z"/>
<path d="M1572.7 371.6L1590.7 403.1L1554.7 403.1Z"/>
<path d="M1589.2 371.2L1607.2 402.7L1571.2 402.7Z"/>
<path d="M1605.8 370.7L1623.8 402.2L1587.8 402.2Z"/>
<path d="M1622.4 370.2L1640.4 401.7L1604.4 401.7Z"/>
<path d="M1638.9 369.7L1656.9 401.2L1620.9 401.2Z"/>
<path d="M1655.5 369.3L1673.5 400.8L1637.5 400.8Z"/>
<path d="M1672.0 368.8L1690.0 400.3L1654.0 400.3Z"/>
<path d="M1688.6 368.3L1706.6 399.8L1670.6 399.8Z"/>
<path d="M1705.1 367.9L1723.1 399.4L1687.1 399.4Z"/>
<path d="M1721.7 367.5L1739.7 399.0L1703.7 399.0Z"/>
<path d="M1738.2 367.1L1756.2 398.6L1720.2 398.6Z"/>
<path d="M1754.8 366.8L1772.8 398.3L1736.8 398.3Z"/>
<path d="M1771.3 366.5L1789.3 398.0L1753.3 398.0Z"/>
<path d="M1787.9 366.2L1805.9 397.7L1769.9 397.7Z"/>
<path d="M1804.4 366.0L1822.4 397.5L1786.4 397.5Z"/>
<path d="M1821.0 365.8L1839.0 397.3L1803.0 397.3Z"/>
<path d="M1837.5 365.5L1855.5 397.0L1819.5 397.0Z"/>
<path d="M1854.1 365.3L1872.1 396.8L1836.1 396.8Z"/>
<path d="M1870.6 365.1L1888.6 396.6L1852.6 396.6Z"/>
<path d="M1887.2 365.0L1905.2 396.5L1869.2 396.5Z"/>
<path d="M1903.7 364.8L1921.7 396.3L1885.7 396.3Z"/>
<path d="M1920.3 364.7L1938.3 396.2L1902.3 396.2Z"/>
<path d="M1936.8 364.6L1954.8 396.1L1918.8 396.1Z"/>
<path d="M1953.4 364.5L1971.4 396.0L1935.4 396.0Z"/>
</g>
</g>
<rect x="1426.3" y="989.5" width="135" height="2.6" fill="#000"/>
<rect x="1480.7" y="978.3" width="26.5" height="26.3" fill="#000"/>
<rect x="1426.3" y="1062.8" width="135" height="2.6" fill="#ff1f26"/>
<circle cx="1495" cy="1064.4" r="15.2" fill="#ff1f26"/>
<rect x="1426.3" y="1136.6" width="135" height="2.6" fill="#3300ff"/>
<path d="M1495 1117.9L1513 1150.5L1477.1 1150.5Z" fill="#3300ff"/>
<g font-size="60px">
<g transform="translate(0,1010.8) scale(1,1.04)"><text y="0" x="1579.1 1617.4 1652.4">PLA</text></g>
<g transform="translate(0,1084.7) scale(1,1.04)"><text y="0" x="1579.1 1618.2 1657.3 1704.7 1726.4 1766.0 1799.4">PSQ-PLA</text></g>
<g transform="translate(0,1158.4) scale(1,1.04)"><text y="0" x="1579.06">P<tspan font-size="36px" dy="23.0" x="1617.5">5</tspan><tspan dy="-23.0" x="1639.2 1678.3 1717.4 1764.7 1786.5 1824.8 1859.8">PSQ-PLA</tspan></text></g>
</g>
</svg></body></html>
